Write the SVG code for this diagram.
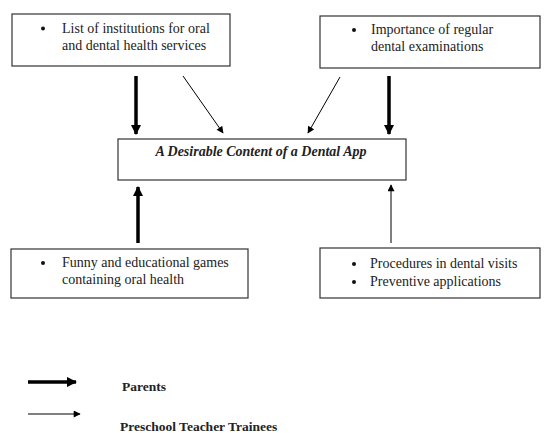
<svg xmlns="http://www.w3.org/2000/svg" width="544" height="433" viewBox="0 0 544 433">
<defs>
<marker id="hThick" viewBox="0 0 10 10" refX="9" refY="5" markerWidth="3" markerHeight="3" orient="auto" markerUnits="strokeWidth"><path d="M0,0 L10,5 L0,10 z" fill="#000"/></marker>
<marker id="hThin" viewBox="0 0 10 10" refX="9" refY="5" markerWidth="8" markerHeight="7" orient="auto" markerUnits="strokeWidth"><path d="M0,0 L10,5 L0,10 z" fill="#000"/></marker>
</defs>
<style>
.box{fill:#fff;stroke:#333;stroke-width:1.2}
.t{font-family:"Liberation Serif","Times New Roman",serif;font-size:14px;fill:#222}
.dot{fill:#111}
.title{font-family:"Liberation Serif","Times New Roman",serif;font-size:14px;font-weight:bold;font-style:italic;fill:#222}
.leg{font-family:"Liberation Serif","Times New Roman",serif;font-size:13.5px;font-weight:bold;fill:#222}
.thick{stroke:#000;stroke-width:3.5;fill:none;marker-end:url(#hThick)}
.thin{stroke:#000;stroke-width:1;fill:none;marker-end:url(#hThin)}
</style>
<rect width="544" height="433" fill="#fff"/>
<g id="n1">
<rect class="box" x="12" y="14" width="218" height="52"/>
<circle class="dot" cx="43" cy="28.5" r="2"/>
<text class="t" x="62" y="33">List of institutions for oral</text>
<text class="t" x="62" y="50">and dental health services</text>
</g>
<g id="n2">
<rect class="box" x="320" y="16" width="220" height="52"/>
<circle class="dot" cx="354" cy="30" r="2"/>
<text class="t" x="371" y="34">Importance of regular</text>
<text class="t" x="371" y="51">dental examinations</text>
</g>
<g id="center">
<rect class="box" x="118" y="139" width="288" height="41"/>
<text class="title" x="261" y="156" text-anchor="middle">A Desirable Content of a Dental App</text>
</g>
<g id="n3">
<rect class="box" x="11" y="249" width="237" height="49"/>
<circle class="dot" cx="43" cy="263" r="2"/>
<text class="t" x="62" y="267">Funny and educational games</text>
<text class="t" x="62" y="284">containing oral health</text>
</g>
<g id="n4">
<rect class="box" x="320" y="248" width="220" height="50"/>
<circle class="dot" cx="354" cy="264" r="2"/>
<text class="t" x="370" y="268">Procedures in dental visits</text>
<circle class="dot" cx="354" cy="282" r="2"/>
<text class="t" x="370" y="286">Preventive applications</text>
</g>
<g id="connectors">
<line class="thick" x1="136" y1="76" x2="136" y2="134"/>
<line class="thick" x1="389" y1="76" x2="389" y2="134"/>
<line class="thin" x1="183" y1="76" x2="223" y2="133"/>
<line class="thin" x1="340" y1="77" x2="308" y2="133"/>
<line class="thick" x1="138" y1="243" x2="138" y2="187"/>
<line class="thin" x1="391" y1="243" x2="391" y2="185"/>
</g>
<g id="legend">
<line class="thick" x1="28" y1="382" x2="76" y2="382"/>
<text class="leg" x="122" y="391">Parents</text>
<line class="thin" x1="28" y1="414" x2="80" y2="414"/>
<text class="leg" x="120" y="431">Preschool Teacher Trainees</text>
</g>
</svg>
